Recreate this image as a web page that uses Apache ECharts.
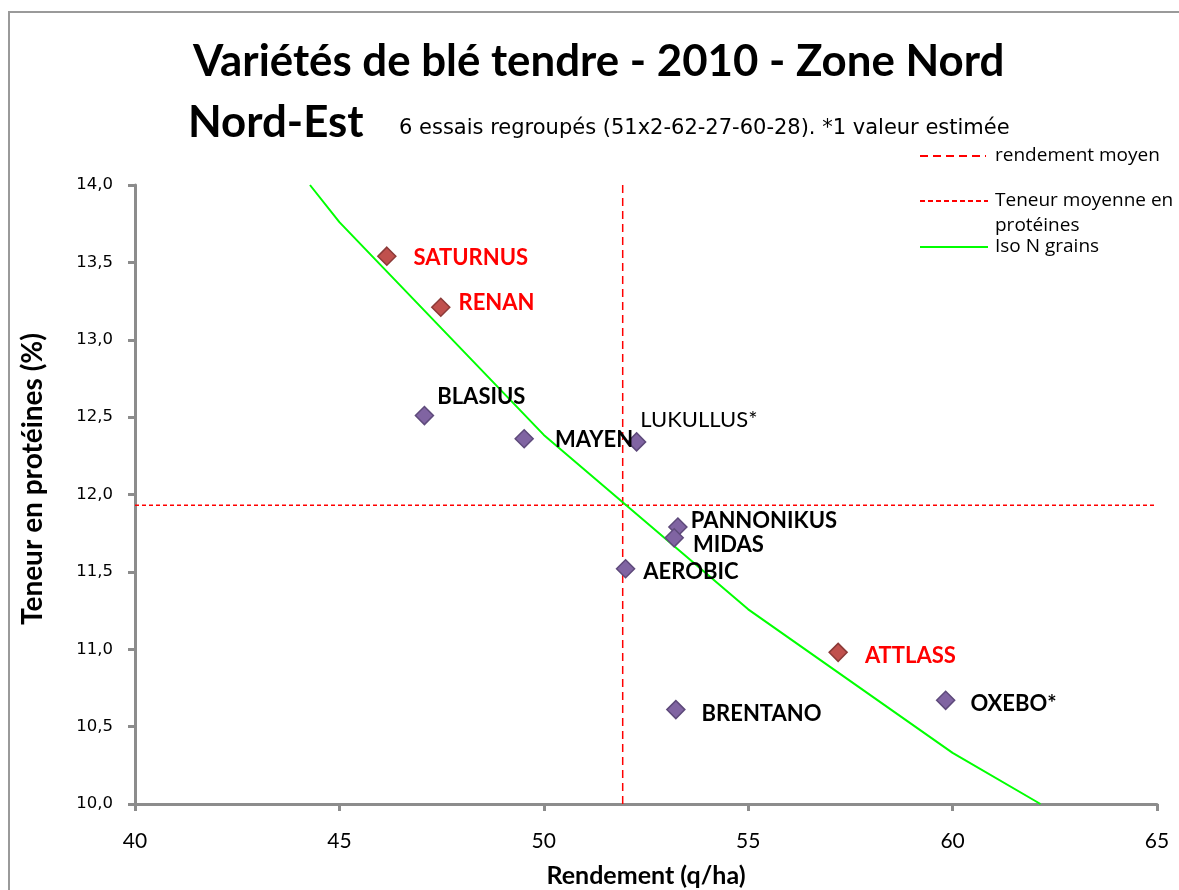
<!DOCTYPE html>
<html><head><meta charset="utf-8">
<script src="https://cdn.jsdelivr.net/npm/echarts@6/dist/echarts.min.js"></script>
<style>html,body{margin:0;padding:0;background:#fff}#c{width:1179px;height:890px}</style>
</head><body><div id="c"></div>
<script>
// ---- data ----
const varieties  = ['SATURNUS','RENAN','BLASIUS','MAYEN','LUKULLUS*','PANNONIKUS','MIDAS','AEROBIC','BRENTANO','ATTLASS','OXEBO*'];
const rendement  = [46.16, 47.48, 47.08, 49.52, 52.27, 53.28, 53.19, 52.00, 53.23, 57.20, 59.83];
const proteines  = [13.54, 13.21, 12.51, 12.36, 12.34, 11.79, 11.72, 11.52, 10.61, 10.98, 10.67];
const redGroup   = ['SATURNUS','RENAN','ATTLASS'];
const rendementMoyen = 51.93;
const teneurMoyenne  = 11.93;
const isoX = [44.28, 45, 50, 55, 60, 62.15];
const isoY = [14.00, 13.76, 12.385, 11.258, 10.33, 10.00];
const xRange = [40, 65];
const yRange = [10, 14];

// ---- label placement (style) ----
const labelOffsets = {
  'SATURNUS':[12,2], 'RENAN':[3,-4], 'BLASIUS':[-2,-19], 'MAYEN':[16,1],
  'LUKULLUS*':[-11,-22], 'PANNONIKUS':[-2,-6], 'MIDAS':[4,7], 'AEROBIC':[3,3],
  'BRENTANO':[11,4], 'ATTLASS':[12,4], 'OXEBO*':[10,4]
};
const LBL_FONT = 'Lato';
const points = varieties.map((n, i) => {
  const red = redGroup.includes(n);
  return {
    name: n,
    value: [rendement[i], proteines[i]],
    itemStyle: red ? {color:'#C0504D', borderColor:'#8C3A38', borderWidth:1.5, opacity:1}
                   : {color:'#8064A2', borderColor:'#5E4A7B', borderWidth:1.5, opacity:1},
    label: {
      show: true, formatter: n, position: 'right', distance: 5,
      offset: labelOffsets[n],
      color: red ? '#FF0000' : '#000000',
      fontFamily: LBL_FONT, fontSize: 22,
      fontWeight: n === 'LUKULLUS*' ? 'normal' : 'bold'
    }
  };
});

const chart = echarts.init(document.getElementById('c'), null, {renderer:'canvas'});
const gray = '#8C8C8C';
chart.setOption({
  animation: false,
  title: [
    {text:'Variétés de blé tendre - 2010 - Zone Nord', left:188, top:35,
     textStyle:{fontFamily:'Lato', fontWeight:'bold', fontSize:43.8, color:'#000'}},
    {text:'Nord-Est', left:183, top:96,
     textStyle:{fontFamily:'Lato', fontWeight:'bold', fontSize:43.8, color:'#000'}},
    {text:'6 essais regroupés (51x2-62-27-60-28). *1 valeur estimée', left:394, top:113,
     textStyle:{fontFamily:'DejaVu Sans', fontWeight:'normal', fontSize:21, color:'#000'}}
  ],
  grid: {left:135, top:185, width:1022, height:619, containLabel:false, outerBoundsMode:'none'},
  xAxis: {
    type:'value', min:xRange[0], max:xRange[1], interval:5,
    axisLine:{show:true, onZero:false, lineStyle:{color:gray, width:3}},
    axisTick:{show:true, length:7, lineStyle:{color:gray, width:3}},
    splitLine:{show:false},
    axisLabel:{margin:27, fontFamily:'Lato', fontSize:21, color:'#000'},
    name:'Rendement (q/ha)', nameLocation:'middle', nameGap:59,
    nameTextStyle:{fontFamily:'Lato', fontWeight:'bold', fontSize:25, color:'#000'}
  },
  yAxis: {
    type:'value', min:yRange[0], max:yRange[1], interval:0.5,
    axisLine:{show:true, onZero:false, lineStyle:{color:gray, width:3}},
    axisTick:{show:true, length:7, lineStyle:{color:gray, width:3}},
    splitLine:{show:false},
    axisLabel:{margin:22, fontFamily:'DejaVu Sans', fontSize:16.5, color:'#000',
               formatter: v => v.toFixed(1).replace('.', ',')}
  },
  graphic: [
    {type:'rect', shape:{x:9, y:12, width:1300, height:1000}, style:{fill:'none', stroke:'#9A9A9A', lineWidth:2}, silent:true},
    {type:'text', x:33, y:479, rotation:Math.PI/2,
     style:{text:'Teneur en protéines (%)', fontFamily:'Lato', fontWeight:'bold', fontSize:28, fill:'#000', align:'center', verticalAlign:'middle'}},
    // legend
    {type:'line', shape:{x1:920, y1:156, x2:986, y2:156}, style:{stroke:'#FF0000', lineWidth:2, lineDash:[8,5]}},
    {type:'text', x:995, y:156, style:{text:'rendement moyen', fontFamily:'Open Sans', fontSize:19, fill:'#000', verticalAlign:'middle'}},
    {type:'line', shape:{x1:920, y1:201, x2:988, y2:201}, style:{stroke:'#FF0000', lineWidth:2, lineDash:[5,3]}},
    {type:'text', x:995, y:201, style:{text:'Teneur moyenne en', fontFamily:'Open Sans', fontSize:19, fill:'#000', verticalAlign:'middle'}},
    {type:'text', x:995, y:226, style:{text:'protéines', fontFamily:'Open Sans', fontSize:19, fill:'#000', verticalAlign:'middle'}},
    {type:'line', shape:{x1:920, y1:247, x2:988, y2:247}, style:{stroke:'#00FF00', lineWidth:2}},
    {type:'text', x:995, y:247, style:{text:'Iso N grains', fontFamily:'Open Sans', fontSize:19, fill:'#000', verticalAlign:'middle'}}
  ],
  series: [
    {name:'rendement moyen', type:'line', symbol:'none', silent:true, z:2,
     lineStyle:{color:'#FF0000', width:1.5, type:[8,5]},
     data:[[rendementMoyen, yRange[0]], [rendementMoyen, yRange[1]]]},
    {name:'Teneur moyenne en protéines', type:'line', symbol:'none', silent:true, z:2,
     lineStyle:{color:'#FF0000', width:1.5, type:[4,3]},
     data:[[xRange[0], teneurMoyenne], [xRange[1], teneurMoyenne]]},
    {name:'Iso N grains', type:'line', symbol:'none', silent:true, z:3,
     lineStyle:{color:'#00FF00', width:2},
     data: isoX.map((x, i) => [x, isoY[i]])},
    {name:'Variétés', type:'scatter', symbol:'diamond', symbolSize:18, z:4,
     data: points}
  ]
});
</script></body></html>
